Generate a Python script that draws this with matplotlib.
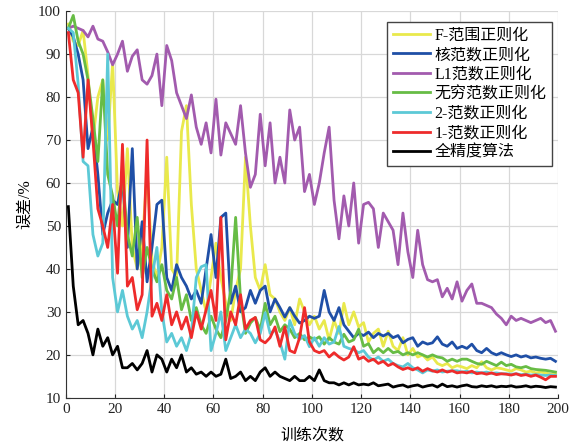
import numpy as np
import matplotlib
matplotlib.use('Agg')
import matplotlib.pyplot as plt

plt.rcParams['font.family'] = ['Liberation Serif', 'Noto Sans CJK SC']

# Training epochs (every second epoch)
epochs = np.arange(1, 201, 2)

err_full = [54.5, 36, 27, 28, 25, 20, 26, 22, 24, 20,
            22, 17, 17, 18, 16.5, 18, 21, 16, 20, 19,
            16, 19, 17, 20, 16, 17, 15.5, 16, 15, 16,
            15, 15.5, 19, 14.5, 15, 16, 14, 15, 14, 16,
            17, 15, 16, 15, 14.5, 14, 15, 14, 14, 15,
            14, 16.5, 14, 13.5, 13.5, 13, 13.5, 13, 13.5, 13,
            13.2, 13, 13.5, 12.8, 13, 13.2, 12.5, 12.8, 13, 12.5,
            12.8, 13, 12.5, 12.8, 13, 12.5, 13.2, 12.6, 12.8, 12.5,
            12.8, 13, 12.6, 12.5, 12.8, 12.6, 12.8, 12.5, 12.7, 12.6,
            12.8, 12.5, 12.6, 12.8, 12.5, 12.7, 12.6, 12.4, 12.6, 12.5]

err_l1 = [96, 96.5, 96, 95.5, 94, 96.5, 93.5, 93, 90.5, 87.5,
          90, 93, 86, 89.5, 91, 84, 83, 85, 90, 78,
          92, 88.5, 81, 78, 75, 80.5, 73, 69, 74, 67,
          79.5, 66.5, 74, 71.5, 69, 78, 67, 59, 62, 76,
          64, 74, 60, 66, 60, 77, 70, 73, 58, 62,
          55, 60, 67, 73, 56, 47, 57, 50, 60, 46,
          55, 55.5, 54, 45, 53, 51, 49, 41, 53, 44,
          38, 49, 41, 37.5, 37, 37.5, 33.5, 35.5, 33, 37,
          32.5, 35, 36.5, 32, 32, 31.5, 31, 29.5, 28.5, 27,
          29, 28, 28.5, 28, 27.5, 28, 28.5, 27.5, 28, 25.5]

err_f = [97, 93, 92, 95.5, 85, 70, 80, 84, 70, 88,
         58, 50, 68, 45, 40, 45, 63, 42, 38, 45,
         66, 40, 38, 72, 78, 55, 40, 35, 30, 38,
         46, 38, 32, 28, 35, 40, 66, 50, 38, 35,
         41, 34, 33, 30, 28, 31, 27, 33, 30, 27,
         29, 26, 28, 23.5, 28, 25, 32, 27, 30, 26.5,
         27.5, 23, 25, 26, 22, 25.5, 22, 21, 24, 20,
         21.5, 19.5, 20, 18.8, 19.5, 18, 17.5, 18, 17, 17.5,
         17.2, 16.8, 17.5, 17, 18.4, 17, 16.5, 17, 16.8, 16.5,
         16.2, 16.8, 16.5, 16, 16.2, 15.8, 16, 15.8, 15.5, 15.5]

err_nuc = [96, 94, 90, 84, 68, 73, 62, 48, 53, 56,
           55, 61, 45, 68, 40, 51, 37, 45, 55, 56,
           38, 35, 41, 38, 36, 33, 35, 32, 40, 48,
           38, 52, 53, 32, 36, 30, 31, 35, 32, 35,
           36, 30, 33, 31, 28.8, 31, 29, 27.4, 28, 29,
           28.5, 29, 35, 30, 28, 31, 27, 25.5, 24, 25,
           24.5, 25.3, 24, 25, 24.4, 25, 24, 24.5, 22.8, 23.6,
           24, 22, 23, 22.5, 22.8, 24.2, 22.5, 22, 23, 21.5,
           22, 21.5, 22.5, 21, 20.5, 21.5, 20.5, 20, 20.5, 20,
           19.6, 20, 19.5, 19.8, 19.3, 19.5, 19.2, 19, 19.2, 18.5]

err_inf = [96, 99, 93, 90, 84, 75, 65, 84, 62, 57,
           50, 62, 48, 43, 52, 38, 45, 40, 37, 41,
           35, 33, 38, 30.5, 34, 28, 31, 27, 25, 29,
           26, 24, 28, 35, 52, 33, 25, 27.4, 28.7, 25.8,
           32, 27, 29, 25.4, 27, 26, 24, 25, 23.5, 24.2,
           23.5, 24.2, 22.5, 24, 23, 22.5, 24.8, 23, 23.5, 26,
           22, 22.6, 20.5, 21.5, 20.5, 21.5, 20.5, 20.8, 20, 20.5,
           20, 20.5, 20, 19.5, 20, 19.5, 19.3, 18.5, 19, 18.5,
           19, 19, 18.5, 18, 17.8, 18.5, 18, 17.5, 18.3, 17.5,
           17.8, 17.2, 17, 17.3, 16.8, 16.6, 16.5, 16.4, 16.2, 16]

err_l2 = [96, 95, 83, 65, 64, 48, 43, 46, 90, 38,
          30, 35, 29, 26, 28, 24, 30, 38, 45, 30,
          23, 25, 22, 24, 21, 25, 38, 40.5, 41, 21,
          25, 30, 21, 24, 27, 24, 26, 25, 22.8, 25,
          29.8, 25, 25.8, 23, 19, 28, 25, 23.6, 24.5, 21.9,
          24, 22, 24, 22.5, 23, 26.6, 22, 21.5, 21.2, 20.5,
          21, 19.5, 18.8, 19.5, 18.5, 19, 18, 17.5, 17.2, 18,
          17, 16.5, 15.8, 16.5, 16.2, 16.5, 16, 16.2, 16.3, 16.3,
          16, 16.2, 15.8, 16, 15.8, 16, 15.7, 15.8, 15.6, 15.6,
          15.5, 15.6, 15.4, 15.5, 15.3, 15.4, 15.3, 15.2, 15.3, 15.2]

err_l1norm = [95, 84, 81, 66, 84, 70, 54, 50, 45, 55,
              39, 69, 36, 38, 30.5, 34, 70, 29, 32, 28,
              34, 27, 30, 26, 28.8, 24, 30, 26, 30.5, 35,
              28, 52, 23.5, 30, 27, 34, 26, 28, 28.7, 23.5,
              22.8, 24, 26.5, 22, 26.5, 21, 20.5, 24, 31, 23,
              21, 20.5, 21, 19.5, 20.5, 19.5, 18.8, 19.5, 21.9, 19,
              19.5, 18.5, 19, 18, 18.5, 17.5, 18, 17.2, 16.6, 17,
              16.5, 17, 16.2, 16.8, 16.3, 16, 16.5, 16, 16.3, 15.8,
              16, 15.8, 16.2, 15.6, 15.8, 15.5, 15.8, 15.4, 15.6, 15.5,
              15.3, 15.6, 15.2, 15.4, 15, 15.3, 14.8, 14.2, 15, 15]

labels = ['F-范围正则化', '核范数正则化', 'L1范数正则化', '无穷范数正则化',
          '2-范数正则化', '1-范数正则化', '全精度算法']
series = [err_f, err_nuc, err_l1, err_inf, err_l2, err_l1norm, err_full]
colors = ['#E9E94C', '#1F4FA6', '#A25BAE', '#67BC45', '#5CC9D6', '#EE2B2B', '#000000']

fig = plt.figure(figsize=(5.83, 4.45), dpi=100)
ax = fig.add_axes([0.113, 0.106, 0.844, 0.869])

for y, lab, c in zip(series, labels, colors):
    ax.plot(epochs, y, color=c, lw=2.0, label=lab)

ax.set_xlim(0, 200)
ax.set_ylim(10, 100)
ax.set_xticks(np.arange(0, 201, 20))
ax.set_yticks(np.arange(10, 101, 10))
ax.grid(True, color='#D8D8D8', lw=0.9)
ax.set_axisbelow(True)
for s in ['top', 'right']:
    ax.spines[s].set_visible(False)
for s in ['left', 'bottom']:
    ax.spines[s].set_color('#333333')
ax.tick_params(direction='in', length=3, labelsize=11, colors='#222222')

ax.set_xlabel('训练次数', fontsize=11.5, labelpad=9)
ax.set_ylabel('误差/%', fontsize=11.5, labelpad=4)

leg = ax.legend(loc='upper right', bbox_to_anchor=(0.988, 0.972), fontsize=11.5,
                frameon=True, fancybox=False, edgecolor='#444444', framealpha=1,
                handlelength=2.3, handletextpad=0.3, labelspacing=0.22,
                borderpad=0.35, borderaxespad=0)
leg.get_frame().set_linewidth(1.0)

plt.savefig('out.png', dpi=100, facecolor='white')
plt.close()
